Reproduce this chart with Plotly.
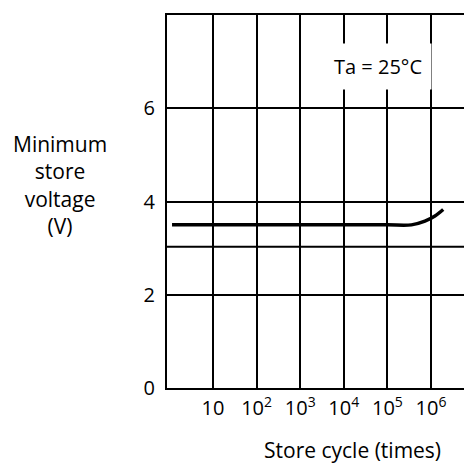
import plotly.graph_objects as go

# Data
cycles = [1.15, 10, 100, 1e3, 1e4, 1e5, 10**5.55, 10**5.86, 10**6.09, 10**6.28]
min_voltage = [3.5, 3.5, 3.5, 3.5, 3.5, 3.5, 3.5, 3.58, 3.69, 3.83]

x_tickvals = [10, 100, 1e3, 1e4, 1e5, 1e6]
x_ticktext = ["10", "10<sup>2</sup>", "10<sup>3</sup>", "10<sup>4</sup>", "10<sup>5</sup>", "10<sup>6</sup>"]
y_tickvals = [0, 2, 4, 6]
y_ticktext = ["0", "2", "4", "6"]
extra_hlines = [3.03]

FONT = "Open Sans"

fig = go.Figure()
fig.add_trace(go.Scatter(
    x=cycles, y=min_voltage, mode="lines",
    line=dict(color="black", width=3.4, shape="spline"),
    showlegend=False, hoverinfo="skip",
))

for h in extra_hlines:
    fig.add_shape(type="line", xref="paper", x0=0, x1=1, yref="y", y0=h, y1=h,
                  line=dict(color="black", width=2), layer="below")

fig.add_annotation(
    text="Ta = 25°C", xref="paper", yref="paper", x=0.692, y=0.861,
    xanchor="center", yanchor="middle",
    showarrow=False, font=dict(family=FONT, size=20, color="black"),
    bgcolor="white", borderpad=9,
)

fig.add_annotation(
    text="Minimum<br>store<br>voltage<br>(V)", xref="paper", yref="paper",
    x=-0.351, y=0.544, xanchor="center", yanchor="middle", showarrow=False,
    font=dict(family=FONT, size=21, color="black"), align="center",
)

fig.add_annotation(
    text="Store cycle (times)", xref="paper", yref="paper",
    x=0.607, y=-0.165, xanchor="center", yanchor="middle", showarrow=False,
    font=dict(family=FONT, size=21, color="black"),
)

fig.update_layout(
    width=472, height=463,
    margin=dict(l=159, r=8, t=5, b=83),
    plot_bgcolor="white", paper_bgcolor="white",
    font=dict(family=FONT, size=20, color="black"),
    xaxis=dict(
        type="log", range=[-0.055, 6.94],
        tickvals=x_tickvals, ticktext=x_ticktext,
        showgrid=True, gridcolor="black", gridwidth=2,
        showline=True, linecolor="black", linewidth=2, mirror=True,
        ticks="", ticklabelstandoff=1, zeroline=False,
    ),
    yaxis=dict(
        range=[0, 8], tickvals=y_tickvals, ticktext=y_ticktext,
        showgrid=True, gridcolor="black", gridwidth=2,
        showline=True, linecolor="black", linewidth=2,
        ticks="", ticklabelstandoff=6, zeroline=False,
    ),
)

fig.write_html("out.html")
